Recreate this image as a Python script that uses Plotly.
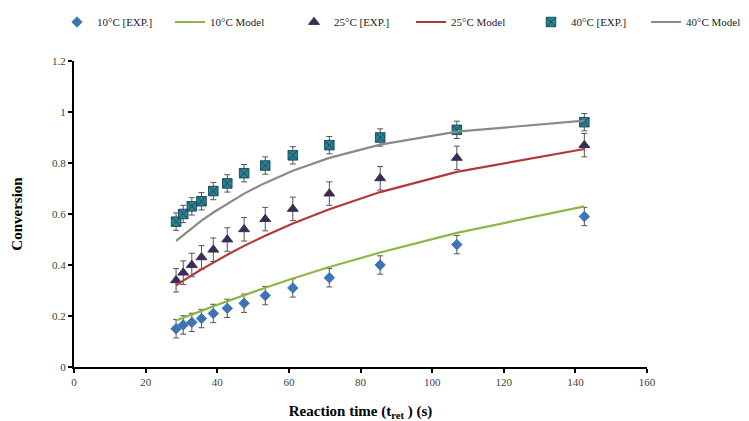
import plotly.graph_objects as go

t_exp = [28.5, 30.5, 32.9, 35.6, 38.9, 42.8, 47.5, 53.4, 61.1, 71.3, 85.5, 106.9, 142.5]

conv_10 = [0.15, 0.165, 0.175, 0.19, 0.21, 0.23, 0.25, 0.28, 0.31, 0.35, 0.40, 0.48, 0.59]
conv_25 = [0.34, 0.37, 0.40, 0.43, 0.46, 0.50, 0.54, 0.58, 0.62, 0.68, 0.74, 0.82, 0.87]
conv_40 = [0.57, 0.60, 0.63, 0.65, 0.69, 0.72, 0.76, 0.79, 0.83, 0.87, 0.90, 0.93, 0.96]

err_10 = [0.036] * 13
err_25 = [0.046] * 13
err_40 = [0.034] * 13

model_10 = [0.182, 0.192, 0.205, 0.220, 0.238, 0.258, 0.282, 0.311, 0.347, 0.392, 0.449, 0.526, 0.63]
model_25 = [0.320, 0.339, 0.360, 0.383, 0.410, 0.440, 0.475, 0.515, 0.563, 0.619, 0.686, 0.765, 0.855]
model_40 = [0.495, 0.518, 0.545, 0.574, 0.606, 0.641, 0.680, 0.722, 0.770, 0.820, 0.872, 0.923, 0.966]

x_ticks = [0, 20, 40, 60, 80, 100, 120, 140, 160]
y_ticks = [0, 0.2, 0.4, 0.6, 0.8, 1, 1.2]
y_tick_text = ["0", "0.2", "0.4", "0.6", "0.8", "1", "1.2"]

FONT = "Liberation Serif"
ERR = "#555555"

# pixel geometry of the plot area
L, R, T, B = 74, 102, 61, 54
W, H = 749, 421
PW = W - L - R
PH = H - T - B

# left edges (px) of each legend entry
legend_left_px = [57, 170, 294, 411, 531, 646]
legend_names = ["legend", "legend2", "legend3", "legend4", "legend5", "legend6"]

fig = go.Figure()

def exp_trace(y, err, name, symbol, color, line_color, size, lg):
    return go.Scatter(
        x=t_exp, y=y, mode="markers", name=name, legend=lg,
        marker=dict(symbol=symbol, color=color, size=size,
                    line=dict(color=line_color, width=1)),
        error_y=dict(type="data", array=err, visible=True,
                     color=ERR, thickness=1, width=3),
    )

def model_trace(y, name, color, lg):
    return go.Scatter(x=t_exp, y=y, mode="lines", name=name, legend=lg,
                      line=dict(color=color, width=2.2))

fig.add_trace(exp_trace(conv_10, err_10, "10°C [EXP.]", "diamond", "#3D74B5", "#3D74B5", 8, "legend"))
fig.add_trace(model_trace(model_10, "10°C Model", "#8DB646", "legend2"))
fig.add_trace(exp_trace(conv_25, err_25, "25°C [EXP.]", "triangle-up", "#3A2C57", "#3A2C57", 9.5, "legend3"))
fig.add_trace(model_trace(model_25, "25°C Model", "#B2383A", "legend4"))
fig.add_trace(exp_trace(conv_40, err_40, "40°C [EXP.]", "square-x", "#2B7F93", "#1B4F5C", 9.5, "legend5"))
fig.add_trace(model_trace(model_40, "40°C Model", "#8A8A8A", "legend6"))

axis_common = dict(
    showline=True, linecolor="black", linewidth=2,
    ticks="outside", ticklen=4, tickwidth=1.5, tickcolor="black",
    showgrid=False, zeroline=False,
    tickfont=dict(family=FONT, size=11, color="#404040"),
)

legend_y = 1 + (T - 22) / PH
legend_layouts = {}
for nm, px in zip(legend_names, legend_left_px):
    legend_layouts[nm] = dict(
        orientation="h", x=(px - L) / PW, xanchor="left",
        y=legend_y, yanchor="middle",
        font=dict(family=FONT, size=11, color="#222222"),
        bgcolor="rgba(0,0,0,0)", borderwidth=0,
    )

fig.update_layout(
    width=W, height=H,
    margin=dict(l=L, r=R, t=T, b=B, autoexpand=False),
    paper_bgcolor="white", plot_bgcolor="white",
    font=dict(family=FONT, color="black"),
    xaxis=dict(range=[0, 160], tickvals=x_ticks,
               title=dict(text="<b>Reaction time (t<sub>ret</sub> ) (s)</b>",
                          font=dict(family=FONT, size=15), standoff=22),
               **axis_common),
    yaxis=dict(range=[0, 1.2], tickvals=y_ticks, ticktext=y_tick_text,
               title=dict(text="<b>Conversion</b>",
                          font=dict(family=FONT, size=15), standoff=26),
               **axis_common),
    showlegend=True,
    **legend_layouts,
)

fig.write_html("out.html")
